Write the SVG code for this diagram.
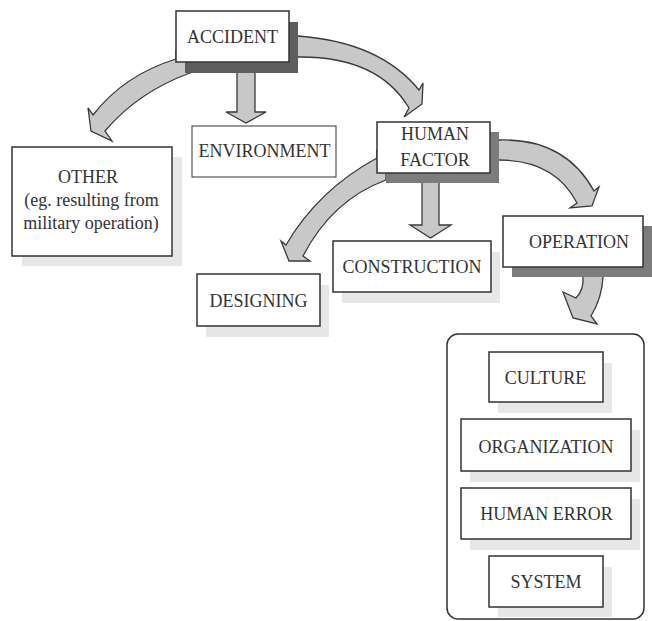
<svg xmlns="http://www.w3.org/2000/svg" width="652" height="621" viewBox="0 0 652 621">
<style>
.box{fill:#fff;stroke:#333;stroke-width:1.5}
.thin{fill:#fff;stroke:#444;stroke-width:1.1}
.ds{fill:#5e5e60}
.ds2{fill:#7c7c7e}
.ls{fill:#e6e7e8}
.arr{fill:#c8c8c8;stroke:#3a3a3a;stroke-width:1.3;stroke-linejoin:miter}
text{font-family:"Liberation Serif","Times New Roman",serif;font-size:18px;fill:#333;text-anchor:middle}
</style>
<rect width="652" height="621" fill="#fff"/>
<g id="connectors">
<path class="arr" d="M176,59 Q124,75 93,115 L88,108 L91,131 L112,141 L105,131 Q138,92 190,73 L190,50 L176,50 Z"/>
<path class="arr" d="M237,68 L237,112 L226,112 L246,123 L266,112 L255,112 L255,68 Z"/>
<path class="arr" d="M298,36 Q380,42 419,90 L423,83 L422,104 L404,117 L409,108 Q378,56 298,57 L290,57 L290,36 Z"/>
<path class="arr" d="M377,158 Q318,190 286,245 L281,241 L289,261 L310,261 L303,256 Q332,200 386,180 L386,150 L377,150 Z"/>
<path class="arr" d="M422,178 L422,225 L410,225 L430.5,238 L451,225 L439,225 L439,178 Z"/>
<path class="arr" d="M499,140 Q565,138 594,191 L599,187 L592,206 L570,208 L577,203 Q555,160 499,160 L490,160 L490,140 Z"/>
<path class="arr" d="M583,268 L583,277 Q584,290 576,298 L563,292 L573,318 L597,324 L591,316 Q602,298 603,277 L603,268 Z"/>
</g>
<g id="accident">
<rect class="ds" x="185" y="22" width="113" height="51"/>
<rect class="box" x="176" y="11" width="113" height="51"/>
<text x="232.5" y="43">ACCIDENT</text>
</g>
<g id="environment">
<rect class="thin" x="192" y="126" width="144" height="51"/>
<text x="264.5" y="157">ENVIRONMENT</text>
</g>
<g id="other">
<rect class="ls" x="22" y="157" width="160" height="109"/>
<rect class="box" x="12" y="147" width="160" height="109"/>
<text x="88" y="183">OTHER</text>
<text x="91.5" y="206">(eg. resulting from</text>
<text x="91" y="229">military operation)</text>
</g>
<g id="human-factor">
<rect class="ds2" x="386" y="132" width="113" height="51"/>
<rect class="box" x="377" y="122" width="113" height="51"/>
<text x="435" y="140">HUMAN</text>
<text x="435" y="166">FACTOR</text>
</g>
<g id="designing">
<rect class="ls" x="206" y="285" width="123" height="52"/>
<rect class="box" x="197" y="274" width="123" height="52"/>
<text x="258.5" y="307">DESIGNING</text>
</g>
<g id="construction">
<rect class="ls" x="342" y="252" width="158" height="51"/>
<rect class="box" x="333" y="241" width="158" height="51"/>
<text x="412" y="273">CONSTRUCTION</text>
</g>
<g id="operation">
<rect class="ds2" x="512" y="226" width="140" height="51"/>
<rect class="box" x="503" y="216" width="140" height="51"/>
<text x="579" y="248">OPERATION</text>
</g>
<g id="operation-group">
<rect class="box" x="447" y="334" width="197" height="285" rx="11"/>
</g>
<g id="culture">
<rect class="ls" x="498" y="363" width="114" height="50"/>
<rect class="box" x="489" y="352" width="114" height="50"/>
<text x="545.5" y="384">CULTURE</text>
</g>
<g id="organization">
<rect class="ls" x="470" y="430" width="170" height="52"/>
<rect class="box" x="461" y="419" width="170" height="52"/>
<text x="546" y="453">ORGANIZATION</text>
</g>
<g id="human-error">
<rect class="ls" x="470" y="499" width="170" height="51"/>
<rect class="box" x="461" y="488" width="170" height="51"/>
<text x="546.5" y="520">HUMAN ERROR</text>
</g>
<g id="system">
<rect class="ls" x="498" y="567" width="114" height="50"/>
<rect class="box" x="489" y="556" width="114" height="51"/>
<text x="546" y="588">SYSTEM</text>
</g>
</svg>
